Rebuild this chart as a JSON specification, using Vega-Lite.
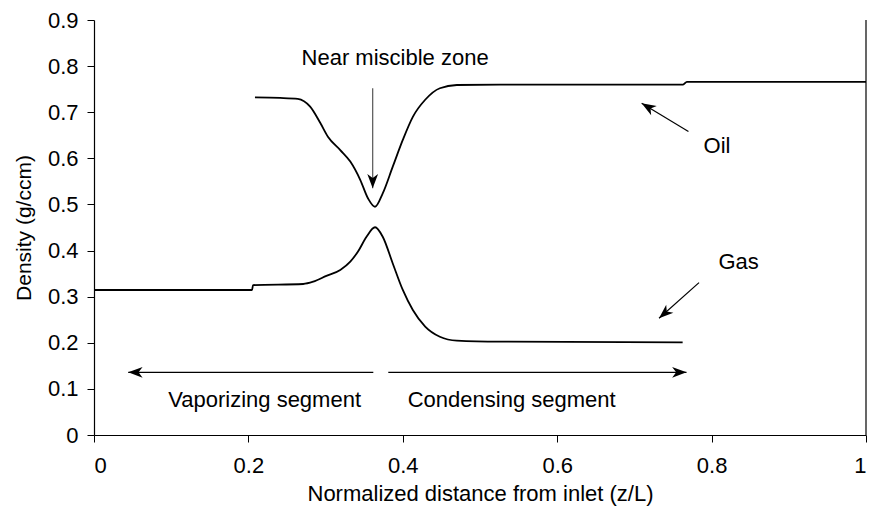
{
  "$schema": "https://vega.github.io/schema/vega-lite/v6.json",
  "width": 772,
  "height": 415,
  "autosize": {"type": "none"},
  "padding": {"left": 94, "top": 20, "right": 3, "bottom": 83},
  "background": "white",
  "config": {
    "view": {"stroke": null},
    "font": "Liberation Sans",
    "axis": {
      "grid": false,
      "domainColor": "black",
      "domainWidth": 1.2,
      "tickColor": "black",
      "tickSize": 7,
      "labelColor": "black",
      "titleColor": "black",
      "labelFont": "Liberation Sans",
      "titleFont": "Liberation Sans",
      "labelFontSize": 22,
      "titleFontSize": 22,
      "titleFontWeight": "normal"
    }
  },
  "datasets": {
    "curves": [
      {"phase": "Oil", "z": 0.2085, "rho": 0.732},
      {"phase": "Oil", "z": 0.241, "rho": 0.731},
      {"phase": "Oil", "z": 0.264, "rho": 0.729},
      {"phase": "Oil", "z": 0.28, "rho": 0.712},
      {"phase": "Oil", "z": 0.293, "rho": 0.677},
      {"phase": "Oil", "z": 0.303, "rho": 0.647},
      {"phase": "Oil", "z": 0.319, "rho": 0.618},
      {"phase": "Oil", "z": 0.332, "rho": 0.593},
      {"phase": "Oil", "z": 0.345, "rho": 0.553},
      {"phase": "Oil", "z": 0.355, "rho": 0.513},
      {"phase": "Oil", "z": 0.364, "rho": 0.495},
      {"phase": "Oil", "z": 0.374, "rho": 0.524},
      {"phase": "Oil", "z": 0.387, "rho": 0.582},
      {"phase": "Oil", "z": 0.4, "rho": 0.64},
      {"phase": "Oil", "z": 0.413, "rho": 0.69},
      {"phase": "Oil", "z": 0.429, "rho": 0.727},
      {"phase": "Oil", "z": 0.448, "rho": 0.752},
      {"phase": "Oil", "z": 0.47, "rho": 0.759},
      {"phase": "Oil", "z": 0.526, "rho": 0.76},
      {"phase": "Oil", "z": 0.763, "rho": 0.76},
      {"phase": "Oil", "z": 0.768, "rho": 0.766},
      {"phase": "Oil", "z": 1.0, "rho": 0.766},
      {"phase": "Gas", "z": 0.0, "rho": 0.3145},
      {"phase": "Gas", "z": 0.2047, "rho": 0.3145},
      {"phase": "Gas", "z": 0.206, "rho": 0.325},
      {"phase": "Gas", "z": 0.271, "rho": 0.3275},
      {"phase": "Gas", "z": 0.284, "rho": 0.3325},
      {"phase": "Gas", "z": 0.301, "rho": 0.345},
      {"phase": "Gas", "z": 0.319, "rho": 0.358},
      {"phase": "Gas", "z": 0.332, "rho": 0.376},
      {"phase": "Gas", "z": 0.342, "rho": 0.398},
      {"phase": "Gas", "z": 0.353, "rho": 0.43},
      {"phase": "Gas", "z": 0.364, "rho": 0.4505},
      {"phase": "Gas", "z": 0.374, "rho": 0.43},
      {"phase": "Gas", "z": 0.387, "rho": 0.372},
      {"phase": "Gas", "z": 0.4, "rho": 0.3145},
      {"phase": "Gas", "z": 0.413, "rho": 0.271},
      {"phase": "Gas", "z": 0.429, "rho": 0.235},
      {"phase": "Gas", "z": 0.448, "rho": 0.213},
      {"phase": "Gas", "z": 0.47, "rho": 0.2046},
      {"phase": "Gas", "z": 0.526, "rho": 0.2024},
      {"phase": "Gas", "z": 0.7625, "rho": 0.201}
    ],
    "arrows": [
      {"name": "miscible", "x0": 0.361, "y0": 0.752, "x1": 0.361, "y1": 0.535, "dir": 180, "col": "#555555"},
      {"name": "oil", "x0": 0.770, "y0": 0.658, "x1": 0.7094, "y1": 0.7195, "dir": 301.3, "col": "black"},
      {"name": "gas", "x0": 0.7837, "y0": 0.3304, "x1": 0.7319, "y1": 0.2531, "dir": 228.4, "col": "black"},
      {"name": "vaporizing", "x0": 0.3618, "y0": 0.136, "x1": 0.0443, "y1": 0.136, "dir": 270, "col": "black"},
      {"name": "condensing", "x0": 0.3812, "y0": 0.136, "x1": 0.7675, "y1": 0.136, "dir": 90, "col": "black"}
    ],
    "labels": [
      {"text": "Near miscible zone", "x": 0.39, "y": 0.818},
      {"text": "Oil", "x": 0.807, "y": 0.627},
      {"text": "Gas", "x": 0.835, "y": 0.376},
      {"text": "Vaporizing segment", "x": 0.221, "y": 0.076},
      {"text": "Condensing segment", "x": 0.541, "y": 0.076}
    ],
    "frame": [
      {"x": 1, "y0": 0, "y1": 0.9}
    ]
  },
  "layer": [
    {
      "data": {"name": "curves"},
      "mark": {"type": "line", "interpolate": "monotone", "stroke": "black", "strokeWidth": 1.8},
      "encoding": {
        "x": {
          "field": "z", "type": "quantitative",
          "scale": {"domain": [0, 1], "nice": false, "zero": false},
          "axis": {
            "title": "Normalized distance from inlet (z/L)",
            "values": [0, 0.2, 0.4, 0.6, 0.8, 1],
            "format": ".1~f",
            "labelPadding": 13,
            "titlePadding": 7
          }
        },
        "y": {
          "field": "rho", "type": "quantitative",
          "scale": {"domain": [0, 0.9], "nice": false},
          "axis": {
            "title": "Density (g/ccm)",
            "titleFontSize": 21,
            "values": [0, 0.1, 0.2, 0.3, 0.4, 0.5, 0.6, 0.7, 0.8, 0.9],
            "format": ".1~f",
            "labelPadding": 9,
            "titlePadding": 13
          }
        },
        "detail": {"field": "phase"}
      }
    },
    {
      "data": {"name": "frame"},
      "mark": {"type": "rule", "stroke": "black", "strokeWidth": 1.2},
      "encoding": {
        "x": {"field": "x", "type": "quantitative"},
        "y": {"field": "y0", "type": "quantitative"},
        "y2": {"field": "y1"}
      }
    },
    {
      "data": {"name": "arrows"},
      "mark": {"type": "rule", "strokeWidth": 1.2},
      "encoding": {
        "x": {"field": "x0", "type": "quantitative"},
        "y": {"field": "y0", "type": "quantitative"},
        "x2": {"field": "x1"},
        "y2": {"field": "y1"},
        "color": {"field": "col", "type": "nominal", "scale": null}
      }
    },
    {
      "data": {"name": "arrows"},
      "mark": {
        "type": "point",
        "shape": "M0,0L-0.6,1.6L0,1.15L0.6,1.6Z",
        "filled": true,
        "size": 324,
        "color": "black",
        "opacity": 1,
        "strokeWidth": 0
      },
      "encoding": {
        "x": {"field": "x1", "type": "quantitative"},
        "y": {"field": "y1", "type": "quantitative"},
        "angle": {"field": "dir", "type": "quantitative", "scale": null}
      }
    },
    {
      "data": {"name": "labels"},
      "mark": {"type": "text", "font": "Liberation Sans", "fontSize": 22, "color": "black", "align": "center", "baseline": "middle"},
      "encoding": {
        "x": {"field": "x", "type": "quantitative"},
        "y": {"field": "y", "type": "quantitative"},
        "text": {"field": "text"}
      }
    }
  ]
}
